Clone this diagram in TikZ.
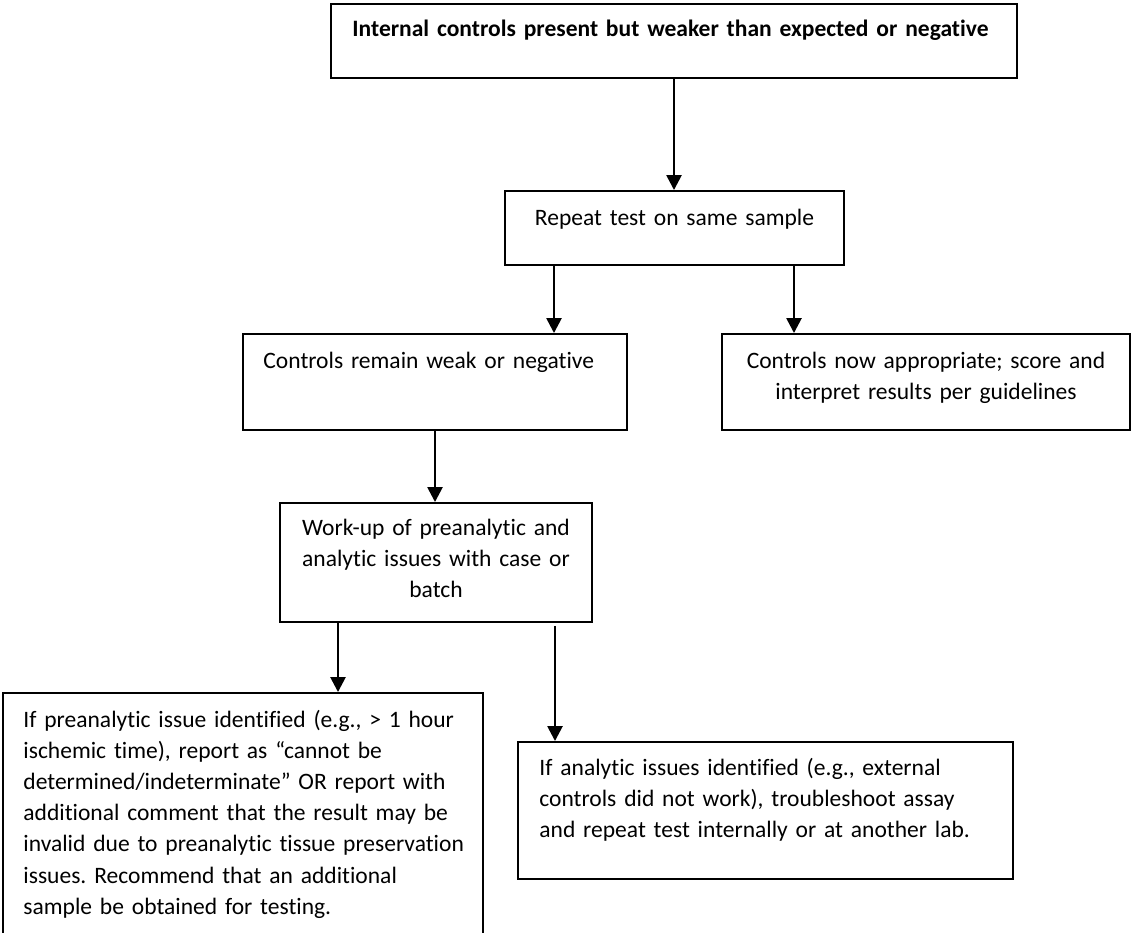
\documentclass[tikz,border=0pt]{standalone}
\usepackage{fontspec}
\setmainfont{Carlito}[Ligatures=CommonOff]
\frenchspacing
\usetikzlibrary{arrows.meta,fit}

\begin{document}
\begin{tikzpicture}[x=0.4675pt,y=-0.4675pt,
  kasten/.style={draw=black,line width=0.9pt,rectangle,inner sep=0pt},
  txt/.style={inner sep=0pt,font=\fontsize{11pt}{14.6pt}\selectfont,text width=#1},
  pfeil/.style={line width=1.2pt,-{Triangle[length=7pt,width=7pt]}}]
%Koordinaten in Pixeln des Originals, y zeigt nach unten
\useasboundingbox (0,0) rectangle (1132,932);
\clip (0,0) rectangle (1132,932);
%Kaesten
\node[kasten,fit={(331,4) (1017,78)}] (b1) {};
\node[kasten,fit={(505,191) (844,265)}] (b2) {};
\node[kasten,fit={(243,334) (627,430)}] (b3) {};
\node[kasten,fit={(722,334) (1130,430)}] (b4) {};
\node[kasten,fit={(280,503) (592,622)}] (b5) {};
\node[kasten,fit={(3,693) (483,950)}] (b6) {};
\node[kasten,fit={(518,742) (1013,879)}] (b7) {};
%Texte, Anker auf der ersten Grundlinie
\node[txt=320pt,anchor=base west,align=left,font=\fontsize{11pt}{14.6pt}\selectfont\bfseries] (t1) at (352,37)
  {Internal controls present but weaker than expected or negative};
\node[txt=150pt,anchor=base,align=center] (t2) at (674.5,225) {Repeat test on same sample};
\node[txt=170pt,anchor=base west,align=left] (t3) at (263,368) {Controls remain weak or negative};
\node[txt=185pt,anchor=base,align=center] (t4) at (926,368)
  {Controls now appropriate; score and\\ interpret results per guidelines};
\node[txt=140pt,anchor=base,align=center] (t5) at (436,535)
  {Work-up of preanalytic and\\ analytic issues with case or\\ batch};
\node[txt=215pt,anchor=base west,align=left] (t6) at (23,727)
  {If preanalytic issue identified (e.g., > 1 hour\\
   ischemic time), report as “cannot be\\
   determined/indeterminate” OR report with\\
   additional comment that the result may be\\
   invalid due to preanalytic tissue preservation\\
   issues. Recommend that an additional\\
   sample be obtained for testing.};
\node[txt=220pt,anchor=base west,align=left] (t7) at (539,775)
  {If analytic issues identified (e.g., external\\
   controls did not work), troubleshoot assay\\
   and repeat test internally or at another lab.};
%Pfeile
\foreach \von/\nach/\xp in {b1/b2/674, b2/b3/554, b2/b4/794, b3/b5/435, b5/b6/338}{
\draw[pfeil] (\von.south -| \xp,0) -- (\nach.north -| \xp,0);
}
\draw[pfeil,shorten <=1.4pt] (b5.south -| 555,0) -- (b7.north -| 555,0);
\end{tikzpicture}
\end{document}
